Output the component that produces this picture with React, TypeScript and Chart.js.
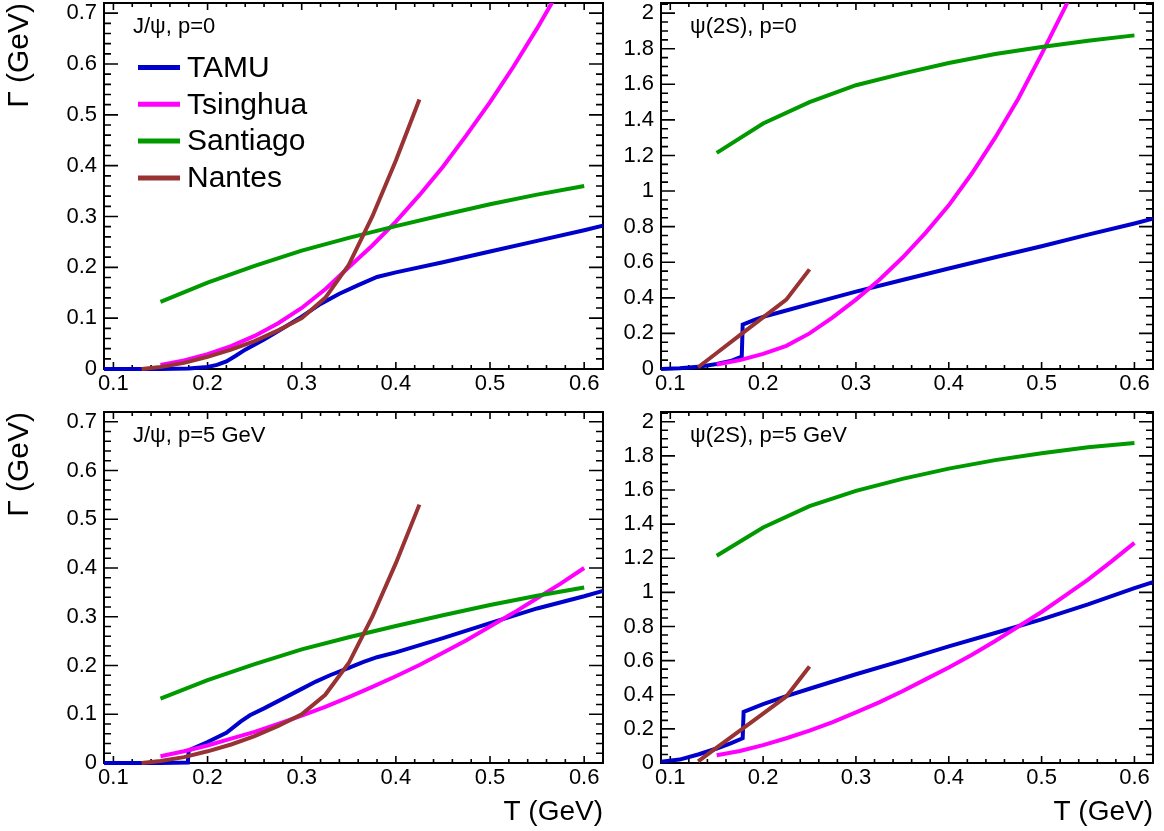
import React, { useEffect, useRef } from "react";
import { Chart, registerables } from "chart.js";

Chart.register(...registerables);

const FONT = "'Liberation Sans', Arial, Helvetica, sans-serif";

// ---------- axes ----------
const X_MIN = 0.09;
const X_MAX = 0.62;
const X_TICKS = [0.1, 0.2, 0.3, 0.4, 0.5, 0.6];
const X_MINOR_STEP = 0.02;

const Y_MAX_JPSI = 0.72;
const Y_TICKS_JPSI = [0, 0.1, 0.2, 0.3, 0.4, 0.5, 0.6, 0.7];
const Y_MINOR_JPSI = 0.02;

const Y_MAX_PSI = 2.057;
const Y_TICKS_PSI = [0, 0.2, 0.4, 0.6, 0.8, 1, 1.2, 1.4, 1.6, 1.8, 2];
const Y_MINOR_PSI = 0.05;

// ---------- series ----------
const SERIES_NAMES = ["TAMU", "Tsinghua", "Santiago", "Nantes"];
const SERIES_COLORS = ["#0000cc", "#ff00ff", "#009900", "#993333"];

type Pt = [number, number];

// J/psi, p=0
const JPSI_P0_TAMU: Pt[] = [[0.09, 0], [0.12, 0], [0.15, 0], [0.18, 0.001], [0.2, 0.004], [0.21, 0.008], [0.22, 0.015], [0.23, 0.026], [0.24, 0.038], [0.26, 0.058], [0.28, 0.08], [0.3, 0.103], [0.32, 0.128], [0.34, 0.148], [0.36, 0.165], [0.38, 0.181], [0.4, 0.19], [0.45, 0.21], [0.5, 0.231], [0.55, 0.252], [0.6, 0.273], [0.62, 0.282]];
const JPSI_P0_TSINGHUA: Pt[] = [[0.15, 0.008], [0.175, 0.017], [0.2, 0.029], [0.225, 0.045], [0.25, 0.065], [0.275, 0.09], [0.3, 0.12], [0.325, 0.157], [0.35, 0.2], [0.375, 0.243], [0.4, 0.29], [0.425, 0.342], [0.45, 0.398], [0.475, 0.46], [0.5, 0.525], [0.525, 0.595], [0.55, 0.67], [0.575, 0.75]];
const JPSI_P0_SANTIAGO: Pt[] = [[0.15, 0.132], [0.2, 0.17], [0.25, 0.203], [0.3, 0.233], [0.35, 0.258], [0.4, 0.281], [0.45, 0.303], [0.5, 0.324], [0.55, 0.343], [0.6, 0.36]];
const JPSI_P0_NANTES: Pt[] = [[0.13, 0], [0.15, 0.004], [0.175, 0.012], [0.2, 0.024], [0.225, 0.038], [0.25, 0.055], [0.275, 0.076], [0.3, 0.1], [0.325, 0.14], [0.35, 0.205], [0.375, 0.3], [0.4, 0.41], [0.425, 0.53]];

// psi(2S), p=0
const PSI_P0_TAMU: Pt[] = [[0.09, 0], [0.11, 0.004], [0.13, 0.012], [0.15, 0.028], [0.165, 0.045], [0.177, 0.07], [0.178, 0.25], [0.19, 0.275], [0.2, 0.293], [0.22, 0.322], [0.25, 0.365], [0.3, 0.435], [0.35, 0.5], [0.4, 0.565], [0.45, 0.628], [0.5, 0.69], [0.55, 0.755], [0.6, 0.818], [0.62, 0.845]];
const PSI_P0_TSINGHUA: Pt[] = [[0.15, 0.025], [0.175, 0.05], [0.2, 0.085], [0.225, 0.13], [0.25, 0.2], [0.275, 0.29], [0.3, 0.39], [0.325, 0.5], [0.35, 0.625], [0.375, 0.765], [0.4, 0.92], [0.425, 1.1], [0.45, 1.3], [0.475, 1.52], [0.5, 1.77], [0.525, 2.03], [0.55, 2.3]];
const PSI_P0_SANTIAGO: Pt[] = [[0.15, 1.215], [0.2, 1.38], [0.25, 1.5], [0.3, 1.595], [0.35, 1.66], [0.4, 1.72], [0.45, 1.77], [0.5, 1.81], [0.55, 1.845], [0.6, 1.875]];
const PSI_P0_NANTES: Pt[] = [[0.13, 0.01], [0.15, 0.09], [0.175, 0.19], [0.2, 0.29], [0.225, 0.39], [0.25, 0.56]];

// J/psi, p=5 GeV
const JPSI_P5_TAMU: Pt[] = [[0.09, 0], [0.15, 0], [0.179, 0.001], [0.18, 0.026], [0.2, 0.043], [0.22, 0.062], [0.235, 0.085], [0.245, 0.098], [0.26, 0.112], [0.28, 0.132], [0.3, 0.152], [0.315, 0.167], [0.33, 0.18], [0.35, 0.195], [0.365, 0.207], [0.38, 0.217], [0.4, 0.227], [0.45, 0.256], [0.5, 0.287], [0.55, 0.317], [0.6, 0.342], [0.62, 0.353]];
const JPSI_P5_TSINGHUA: Pt[] = [[0.15, 0.014], [0.175, 0.024], [0.2, 0.036], [0.225, 0.05], [0.25, 0.064], [0.275, 0.08], [0.3, 0.097], [0.325, 0.115], [0.35, 0.135], [0.375, 0.156], [0.4, 0.178], [0.425, 0.201], [0.45, 0.226], [0.475, 0.252], [0.5, 0.28], [0.525, 0.308], [0.55, 0.338], [0.575, 0.368], [0.6, 0.4]];
const JPSI_P5_SANTIAGO: Pt[] = [[0.15, 0.132], [0.2, 0.17], [0.25, 0.203], [0.3, 0.233], [0.35, 0.258], [0.4, 0.281], [0.45, 0.303], [0.5, 0.324], [0.55, 0.343], [0.6, 0.36]];
const JPSI_P5_NANTES: Pt[] = [[0.13, 0], [0.15, 0.004], [0.175, 0.012], [0.2, 0.024], [0.225, 0.038], [0.25, 0.055], [0.275, 0.076], [0.3, 0.1], [0.325, 0.14], [0.35, 0.205], [0.375, 0.3], [0.4, 0.41], [0.425, 0.53]];

// psi(2S), p=5 GeV
const PSI_P5_TAMU: Pt[] = [[0.09, 0.008], [0.11, 0.02], [0.13, 0.05], [0.15, 0.085], [0.165, 0.115], [0.178, 0.145], [0.179, 0.3], [0.2, 0.345], [0.225, 0.392], [0.25, 0.435], [0.3, 0.52], [0.35, 0.6], [0.4, 0.683], [0.45, 0.762], [0.5, 0.842], [0.55, 0.93], [0.6, 1.025], [0.62, 1.06]];
const PSI_P5_TSINGHUA: Pt[] = [[0.15, 0.045], [0.175, 0.07], [0.2, 0.105], [0.225, 0.145], [0.25, 0.19], [0.275, 0.24], [0.3, 0.297], [0.325, 0.355], [0.35, 0.42], [0.375, 0.49], [0.4, 0.56], [0.425, 0.635], [0.45, 0.715], [0.475, 0.8], [0.5, 0.885], [0.525, 0.98], [0.55, 1.075], [0.575, 1.18], [0.6, 1.29]];
const PSI_P5_SANTIAGO: Pt[] = [[0.15, 1.215], [0.2, 1.38], [0.25, 1.505], [0.3, 1.595], [0.35, 1.665], [0.4, 1.725], [0.45, 1.775], [0.5, 1.815], [0.55, 1.85], [0.6, 1.875]];
const PSI_P5_NANTES: Pt[] = [[0.13, 0.01], [0.15, 0.09], [0.175, 0.19], [0.2, 0.29], [0.225, 0.39], [0.25, 0.565]];

// ---------- panels ----------
type PanelDef = {
  key: string;
  label: string;
  box: { x: number; y: number; w: number; h: number };
  padTop: number;
  padRight: number;
  yWidth: number;
  xHeight: number;
  yMax: number;
  yTicks: number[];
  yMinor: number;
  series: Pt[][];
  legend: boolean;
  yTitle: boolean;
  xTitle: boolean;
};

const PANELS: PanelDef[] = [
  {
    key: "tl", label: "J/\u03c8, p=0",
    box: { x: 0, y: 0, w: 615, h: 400 }, padTop: 3, padRight: 12, yWidth: 104, xHeight: 31,
    yMax: Y_MAX_JPSI, yTicks: Y_TICKS_JPSI, yMinor: Y_MINOR_JPSI,
    series: [JPSI_P0_TAMU, JPSI_P0_TSINGHUA, JPSI_P0_SANTIAGO, JPSI_P0_NANTES],
    legend: true, yTitle: true, xTitle: false,
  },
  {
    key: "tr", label: "\u03c8(2S), p=0",
    box: { x: 615, y: 0, w: 549, h: 400 }, padTop: 3, padRight: 11, yWidth: 46, xHeight: 31,
    yMax: Y_MAX_PSI, yTicks: Y_TICKS_PSI, yMinor: Y_MINOR_PSI,
    series: [PSI_P0_TAMU, PSI_P0_TSINGHUA, PSI_P0_SANTIAGO, PSI_P0_NANTES],
    legend: false, yTitle: false, xTitle: false,
  },
  {
    key: "bl", label: "J/\u03c8, p=5 GeV",
    box: { x: 0, y: 400, w: 615, h: 431 }, padTop: 12, padRight: 12, yWidth: 104, xHeight: 68,
    yMax: Y_MAX_JPSI, yTicks: Y_TICKS_JPSI, yMinor: Y_MINOR_JPSI,
    series: [JPSI_P5_TAMU, JPSI_P5_TSINGHUA, JPSI_P5_SANTIAGO, JPSI_P5_NANTES],
    legend: false, yTitle: true, xTitle: true,
  },
  {
    key: "br", label: "\u03c8(2S), p=5 GeV",
    box: { x: 615, y: 400, w: 549, h: 431 }, padTop: 12, padRight: 11, yWidth: 46, xHeight: 68,
    yMax: Y_MAX_PSI, yTicks: Y_TICKS_PSI, yMinor: Y_MINOR_PSI,
    series: [PSI_P5_TAMU, PSI_P5_TSINGHUA, PSI_P5_SANTIAGO, PSI_P5_NANTES],
    legend: false, yTitle: false, xTitle: true,
  },
];

const fmtTick = (v: number | string) => String(Math.round(Number(v) * 100) / 100);

function minorValues(step: number, min: number, max: number, majors: number[]) {
  const out: number[] = [];
  const k0 = Math.ceil(min / step - 1e-9);
  const k1 = Math.floor(max / step + 1e-9);
  for (let k = k0; k <= k1; k++) {
    const v = k * step;
    if (!majors.some((m) => Math.abs(m - v) < 1e-9)) out.push(v);
  }
  return out;
}

function makeConfig(p: PanelDef): any {
  const framePlugin = {
    id: "rootFrame_" + p.key,
    beforeDatasetsDraw(chart: any) {
      const { ctx, chartArea: a } = chart;
      const xs = chart.scales.x;
      const ys = chart.scales.y;
      ctx.save();
      ctx.strokeStyle = "#000";
      ctx.lineWidth = 1.6;
      ctx.beginPath();
      const addX = (v: number, len: number) => {
        const px = xs.getPixelForValue(v);
        ctx.moveTo(px, a.bottom);
        ctx.lineTo(px, a.bottom - len);
        ctx.moveTo(px, a.top);
        ctx.lineTo(px, a.top + len);
      };
      const addY = (v: number, len: number) => {
        const py = ys.getPixelForValue(v);
        ctx.moveTo(a.left, py);
        ctx.lineTo(a.left + len, py);
        ctx.moveTo(a.right, py);
        ctx.lineTo(a.right - len, py);
      };
      X_TICKS.forEach((v) => addX(v, 7));
      minorValues(X_MINOR_STEP, X_MIN, X_MAX, X_TICKS).forEach((v) => addX(v, 4));
      p.yTicks.forEach((v) => addY(v, 14));
      minorValues(p.yMinor, 0, p.yMax, p.yTicks).forEach((v) => addY(v, 7));
      ctx.stroke();
      ctx.lineWidth = 2;
      ctx.strokeRect(a.left, a.top, a.right - a.left, a.bottom - a.top);
      ctx.restore();
    },
    afterDatasetsDraw(chart: any) {
      const { ctx, chartArea: a } = chart;
      ctx.save();
      ctx.fillStyle = "#000";
      ctx.textBaseline = "middle";
      ctx.textAlign = "left";
      ctx.font = `22px ${FONT}`;
      ctx.fillText(p.label, a.left + 29, a.top + 24);
      if (p.legend) {
        chart.data.datasets.forEach((ds: any, i: number) => {
          const y = a.top + 64.5 + i * 36.8;
          ctx.strokeStyle = ds.borderColor;
          ctx.lineWidth = 5;
          ctx.beginPath();
          ctx.moveTo(a.left + 34, y);
          ctx.lineTo(a.left + 76, y);
          ctx.stroke();
          ctx.fillStyle = "#000";
          ctx.font = `30px ${FONT}`;
          ctx.fillText(ds.label, a.left + 83, y + 1);
        });
      }
      ctx.restore();
    },
  };

  const zeroPad = (s: any) => {
    s.paddingLeft = 0;
    s.paddingRight = 0;
    s.paddingTop = 0;
    s.paddingBottom = 0;
  };

  return {
    type: "line",
    data: {
      datasets: p.series.map((pts, i) => ({
        label: SERIES_NAMES[i],
        data: pts.map(([x, y]) => ({ x, y })),
        borderColor: SERIES_COLORS[i],
        backgroundColor: SERIES_COLORS[i],
        borderWidth: 4,
        pointRadius: 0,
        pointHoverRadius: 0,
        tension: 0,
        fill: false,
        order: SERIES_NAMES.length - i,
        clip: { left: 3, top: 0, right: 3, bottom: 3 },
      })),
    },
    options: {
      responsive: false,
      animation: false,
      events: [],
      layout: { padding: { left: 0, top: p.padTop, right: p.padRight, bottom: 0 } },
      plugins: {
        legend: { display: false },
        tooltip: { enabled: false },
        title: { display: false },
      },
      scales: {
        x: {
          type: "linear",
          min: X_MIN,
          max: X_MAX,
          bounds: "data",
          grid: { display: false, drawTicks: false },
          border: { display: false },
          ticks: {
            color: "#000",
            font: { family: FONT, size: 22 },
            padding: 2,
            maxRotation: 0,
            autoSkip: false,
            callback: (v: any) => fmtTick(v),
          },
          afterBuildTicks: (s: any) => {
            s.ticks = X_TICKS.map((v) => ({ value: v }));
          },
          afterFit: (s: any) => {
            s.height = p.xHeight;
            zeroPad(s);
          },
          title: {
            display: p.xTitle,
            text: "T (GeV)",
            align: "end",
            color: "#000",
            font: { family: FONT, size: 28 },
            padding: { top: 0, bottom: 2 },
          },
        },
        y: {
          type: "linear",
          min: 0,
          max: p.yMax,
          bounds: "data",
          grid: { display: false, drawTicks: false },
          border: { display: false },
          ticks: {
            color: "#000",
            font: { family: FONT, size: 22 },
            padding: 7,
            autoSkip: false,
            callback: (v: any) => fmtTick(v),
          },
          afterBuildTicks: (s: any) => {
            s.ticks = p.yTicks.map((v) => ({ value: v }));
          },
          afterFit: (s: any) => {
            s.width = p.yWidth;
            zeroPad(s);
          },
          title: {
            display: p.yTitle,
            text: "\u0393 (GeV)",
            align: "end",
            color: "#000",
            font: { family: FONT, size: 30 },
            padding: { top: 2, bottom: 0 },
          },
        },
      },
    },
    plugins: [framePlugin],
  };
}

function Panel({ def }: { def: PanelDef }) {
  const ref = useRef<HTMLCanvasElement | null>(null);
  useEffect(() => {
    if (!ref.current) return;
    const chart = new Chart(ref.current, makeConfig(def));
    return () => chart.destroy();
  }, [def]);
  return (
    <canvas
      ref={ref}
      width={def.box.w}
      height={def.box.h}
      style={{
        position: "absolute",
        left: def.box.x,
        top: def.box.y,
        width: def.box.w,
        height: def.box.h,
      }}
    />
  );
}

export default function App() {
  return (
    <div
      style={{
        position: "absolute",
        left: 0,
        top: 0,
        width: 1164,
        height: 831,
        background: "#fff",
        overflow: "hidden",
      }}
    >
      {PANELS.map((p) => (
        <Panel key={p.key} def={p} />
      ))}
    </div>
  );
}
